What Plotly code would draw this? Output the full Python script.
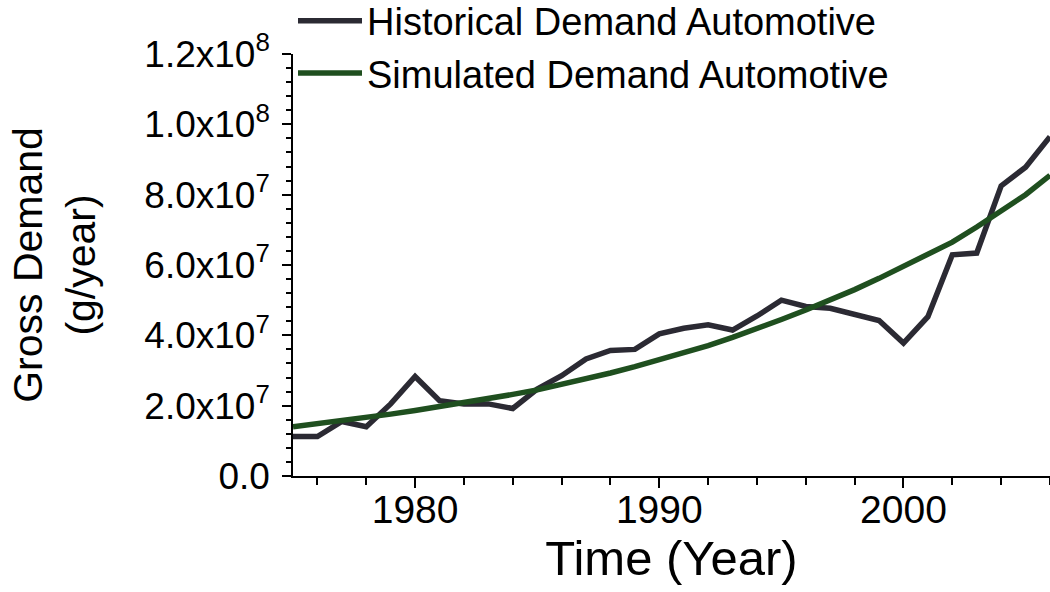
import plotly.graph_objects as go

years = list(range(1975, 2007))

historical = [
    11.2e6, 11.2e6, 15.5e6, 14.0e6, 20.5e6, 28.3e6, 21.4e6, 20.5e6,
    20.5e6, 19.2e6, 24.7e6, 28.5e6, 33.3e6, 35.7e6, 36.0e6, 40.4e6,
    42.0e6, 43.0e6, 41.5e6, 45.5e6, 50.0e6, 48.2e6, 47.7e6, 45.8e6,
    44.2e6, 37.8e6, 45.3e6, 62.9e6, 63.4e6, 82.5e6, 87.8e6, 96.5e6,
]

simulated = [
    14.0e6, 14.8e6, 15.7e6, 16.6e6, 17.6e6, 18.6e6, 19.7e6, 20.8e6,
    22.0e6, 23.2e6, 24.5e6, 26.0e6, 27.6e6, 29.3e6, 31.1e6, 33.0e6,
    35.0e6, 37.1e6, 39.4e6, 41.8e6, 44.5e6, 47.2e6, 50.0e6, 53.0e6,
    56.2e6, 59.7e6, 63.0e6, 66.5e6, 70.8e6, 75.3e6, 80.0e6, 85.5e6,
]

y_tick_vals = [0, 2e7, 4e7, 6e7, 8e7, 1e8, 1.2e8]
y_tick_text = ["0.0", "2.0x10<sup>7</sup>", "4.0x10<sup>7</sup>", "6.0x10<sup>7</sup>",
               "8.0x10<sup>7</sup>", "1.0x10<sup>8</sup>", "1.2x10<sup>8</sup>"]
x_tick_vals = [1980, 1990, 2000]

FONT = "Liberation Sans"

fig = go.Figure()
fig.add_trace(go.Scatter(
    x=years, y=historical, mode="lines", name="Historical Demand Automotive",
    line=dict(color="#2b2a33", width=5.5),
))
fig.add_trace(go.Scatter(
    x=years, y=simulated, mode="lines", name="Simulated Demand Automotive",
    line=dict(color="#1f4f1f", width=5.5),
))

fig.update_layout(
    width=1050, height=592,
    margin=dict(l=293, r=0, t=54, b=116, autoexpand=False),
    paper_bgcolor="white", plot_bgcolor="white",
    font=dict(family=FONT, color="black"),
    showlegend=True,
    legend=dict(
        x=0.0, y=1.153, xanchor="left", yanchor="top",
        font=dict(family=FONT, size=38, color="black"),
        bgcolor="rgba(0,0,0,0)", itemwidth=64,
        tracegroupgap=0,
    ),
    xaxis=dict(
        range=[1975, 2006],
        showgrid=False, zeroline=False,
        showline=True, linecolor="black", linewidth=1.5,
        tickmode="array", tickvals=x_tick_vals,
        ticks="outside", ticklen=10, tickwidth=1.5, tickcolor="black",
        tickfont=dict(family=FONT, size=39, color="black"),
        ticklabelstandoff=-12,
        minor=dict(dtick=2, tick0=1976, ticks="outside", ticklen=7, tickwidth=1.5, tickcolor="black"),
        title=dict(text="Time (Year)", font=dict(family=FONT, size=49, color="black"), standoff=6),
    ),
    yaxis=dict(
        range=[0, 1.2e8],
        showgrid=False, zeroline=False,
        showline=True, linecolor="black", linewidth=1.5,
        tickmode="array", tickvals=y_tick_vals, ticktext=y_tick_text,
        ticks="outside", ticklen=9, tickwidth=1.5, tickcolor="black",
        tickfont=dict(family=FONT, size=37, color="black"),
        ticklabelstandoff=5,
        minor=dict(dtick=4e6, tick0=0, ticks="outside", ticklen=5, tickwidth=1.5, tickcolor="black"),
        title=dict(text="Gross Demand<br>(g/year)", font=dict(family=FONT, size=41, color="black"), standoff=36),
    ),
)

fig.write_html("out.html", config={"displayModeBar": False},
               post_script="document.body.style.margin='0px';")
